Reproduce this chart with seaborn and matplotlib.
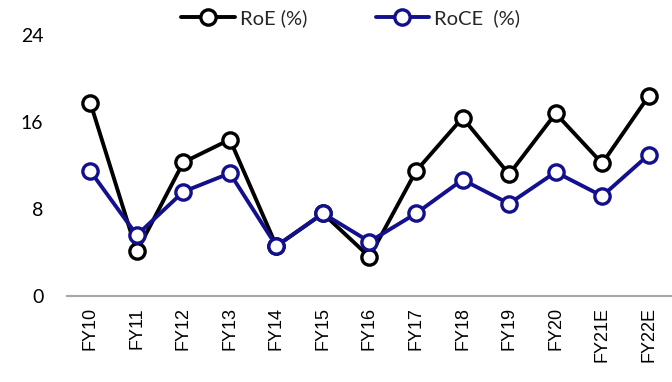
import matplotlib
matplotlib.use("Agg")
import matplotlib.pyplot as plt
import seaborn as sns
import pandas as pd

years = ["FY10", "FY11", "FY12", "FY13", "FY14", "FY15", "FY16",
         "FY17", "FY18", "FY19", "FY20", "FY21E", "FY22E"]
roe = [17.8, 4.1, 12.3, 14.4, 4.6, 7.6, 3.6, 11.5, 16.4, 11.2, 16.8, 12.2, 18.4]
roce = [11.5, 5.6, 9.6, 11.3, 4.6, 7.6, 5.0, 7.6, 10.7, 8.5, 11.4, 9.2, 13.0]
yticks = [0, 8, 16, 24]

sns.set_theme(style="white")
plt.rcParams["font.family"] = ["Lato", "DejaVu Sans"]

df = pd.DataFrame({"year": years, "RoE (%)": roe, "RoCE  (%)": roce})

fig = plt.figure(figsize=(6.72, 3.82), dpi=100)
ax = fig.add_axes([0.0997, 0.225, 0.9003, 0.683])

series = [("RoE (%)", "#000000"), ("RoCE  (%)", "#12108C")]
for name, color in series:
    sns.lineplot(data=df, x="year", y=name, sort=False, ax=ax, color=color,
                 linewidth=2.8, marker="o", markersize=11,
                 markerfacecolor="white", markeredgecolor=color,
                 markeredgewidth=2.4, label=name)

ax.set_xlim(-0.5, len(years) - 0.5)
ax.set_ylim(0, 24)
ax.set_yticks(yticks)
ax.set_yticklabels([str(t) for t in yticks], fontsize=14)
ax.set_xlabel("")
ax.set_ylabel("")
ax.tick_params(axis="y", length=0, pad=17, colors="#000000")
ax.tick_params(axis="x", length=0, pad=8, colors="#000000")
for lbl in ax.get_xticklabels():
    lbl.set_rotation(90)
    lbl.set_fontfamily(["Liberation Sans", "DejaVu Sans"])
    lbl.set_fontsize(13)

for side in ["top", "right", "left"]:
    ax.spines[side].set_visible(False)
ax.spines["bottom"].set_color("#A6A6A6")
ax.spines["bottom"].set_linewidth(1.5)
ax.grid(False)
for line in ax.lines:
    line.set_clip_on(False)

handles, labels = ax.get_legend_handles_labels()
ax.legend_.remove()
fig.legend(handles, labels, loc="center", bbox_to_anchor=(0.522, 0.952),
           ncol=2, frameon=False, fontsize=14.5, handlelength=2.65,
           columnspacing=3.4, handletextpad=0.25, borderpad=0)

fig.savefig("out.png", dpi=100)
